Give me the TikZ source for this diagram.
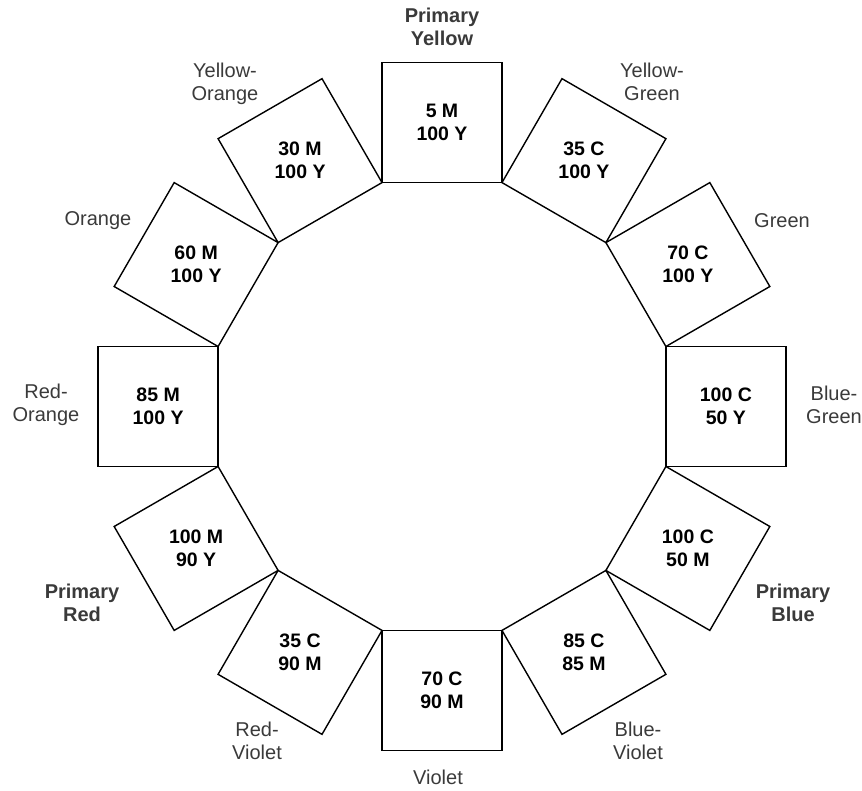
\documentclass[tikz,border=0pt]{standalone}
\usepackage{fontspec}
\setmainfont{Liberation Sans}
\usetikzlibrary{calc}
\definecolor{labelgray}{HTML}{3A3A3A}
\begin{document}
\begin{tikzpicture}[x=1pt,y=1pt,
  swatch/.style={draw=black, line width=1.4pt, minimum size=120pt, inner sep=0pt, outer sep=0pt},
  cmyk/.style={font=\fontsize{19.5}{23}\selectfont\bfseries, align=center, text=black, inner sep=0pt},
  hue/.style={font=\fontsize{20}{23}\selectfont, align=center, text=labelgray, inner sep=0pt},
  primary/.style={font=\fontsize{20}{23}\selectfont\bfseries, align=center, text=labelgray, inner sep=0pt}]
\useasboundingbox (0,0) rectangle (862,-790);
\coordinate (C) at (442,-406.5);
\foreach \ang/\nm/\txt in {
  90/sqYellow/{5 M\\100 Y},
  120/sqYellowOrange/{30 M\\100 Y},
  150/sqOrange/{60 M\\100 Y},
  180/sqRedOrange/{85 M\\100 Y},
  210/sqRed/{100 M\\90 Y},
  240/sqRedViolet/{35 C\\90 M},
  270/sqViolet/{70 C\\90 M},
  300/sqBlueViolet/{85 C\\85 M},
  330/sqBlue/{100 C\\50 M},
  0/sqBlueGreen/{100 C\\50 Y},
  30/sqGreen/{70 C\\100 Y},
  60/sqYellowGreen/{35 C\\100 Y}}{
  \node[swatch, rotate=\ang] (\nm) at ($(C)+(\ang:283.9)$) {};
  \node[cmyk] (\nm-text) at (\nm.center) {\txt};
}
\node[primary] (lYellow) at (442,-27) {Primary\\Yellow};
\node[hue] (lYellowOrange) at (225,-84) {Yellow-\\Orange};
\node[hue] (lYellowGreen) at (652,-82) {Yellow-\\Green};
\node[hue] (lOrange) at (98,-221) {Orange};
\node[hue] (lGreen) at (782,-221) {Green};
\node[hue] (lRedOrange) at (46,-405) {Red-\\Orange};
\node[hue] (lBlueGreen) at (834,-405) {Blue-\\Green};
\node[primary] (lRed) at (82,-603) {Primary\\Red};
\node[primary] (lBlue) at (793,-603) {Primary\\Blue};
\node[hue] (lRedViolet) at (257,-741) {Red-\\Violet};
\node[hue] (lBlueViolet) at (638,-741) {Blue-\\Violet};
\node[hue] (lViolet) at (438,-777) {Violet};
\end{tikzpicture}
\end{document}
